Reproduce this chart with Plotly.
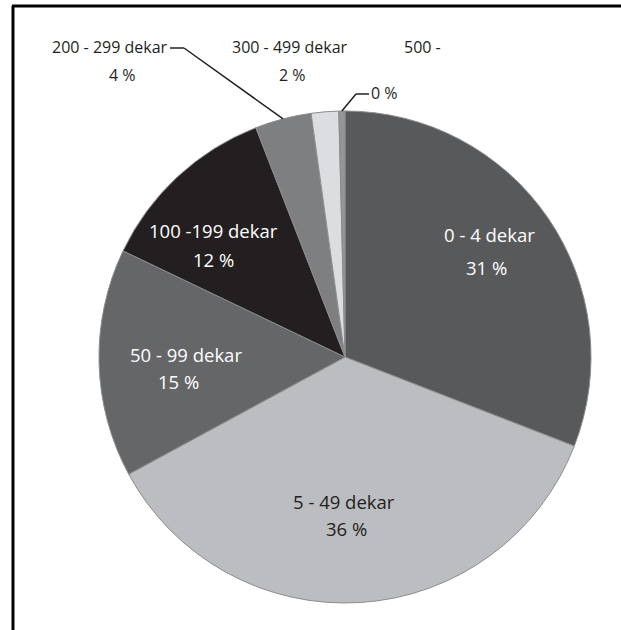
import math
import plotly.graph_objects as go

categories = ["0 - 4 dekar", "5 - 49 dekar", "50 - 99 dekar", "100 -199 dekar",
              "200 - 299 dekar", "300 - 499 dekar", "500 -"]
values = [30.9, 36.2, 15.0, 12.0, 3.7, 1.8, 0.4]
pct_labels = ["31 %", "36 %", "15 %", "12 %", "4 %", "2 %", "0 %"]
colors = ["#58595b", "#bcbdc0", "#656668", "#231f20", "#7e7f81", "#dcdde0", "#939598"]

W, H = 621, 630
cx, cy, R = 345, 357, 246  # pie centre / radius in pixels

dom_x = [(cx - R) / W, (cx + R) / W]
dom_y = [1 - (cy + R) / H, 1 - (cy - R) / H]

fig = go.Figure(go.Pie(
    labels=categories, values=values, sort=False, direction="clockwise",
    rotation=0, textinfo="none", hoverinfo="label+percent",
    marker=dict(colors=colors, line=dict(color="#8c8c8c", width=1)),
    domain=dict(x=dom_x, y=dom_y), showlegend=False,
))

FONT = "Open Sans"

def px2paper(x, y):
    return x / W, 1 - y / H

ann = []
def add_text(x, y, text, color, fs):
    px, py = px2paper(x, y)
    ann.append(dict(x=px, y=py, xref="paper", yref="paper", text=text, showarrow=False,
                    font=dict(family=FONT, size=fs, color=color), xanchor="center", yanchor="middle"))

# inside labels: (category index, name pos, pct pos, colour)
inside = [
    (0, (489, 234), (486, 267), "white"),
    (1, (344, 502), (346, 528), "#231f20"),
    (2, (186, 354), (178, 381), "white"),
    (3, (214, 230), (214, 259), "white"),
]
for i, p1, p2, col in inside:
    add_text(*p1, categories[i], col, 18.5)
    add_text(*p2, pct_labels[i], col, 18.5)

# outside labels
FO = 16
add_text(110, 47, categories[4], "#231f20", FO)
add_text(122, 75, pct_labels[4], "#231f20", FO)
add_text(290, 47, categories[5], "#231f20", FO)
add_text(292, 75, pct_labels[5], "#231f20", FO)
add_text(422, 47, categories[6], "#231f20", FO)
add_text(384, 93, pct_labels[6], "#231f20", FO)

# slice mid-angle edge points from data
total = sum(values)
cum = 0
mids = []
for v in values:
    a = (cum + v / 2) / total * 2 * math.pi
    mids.append((cx + R * math.sin(a), cy - R * math.cos(a)))
    cum += v

shapes = []
def seg(p, q, color="#231f20", w=1.5):
    x0, y0 = px2paper(*p)
    x1, y1 = px2paper(*q)
    shapes.append(dict(type="line", xref="paper", yref="paper", x0=x0, y0=y0, x1=x1, y1=y1,
                       line=dict(color=color, width=w)))

# leader 200-299
seg((170, 48), (184, 48))
seg((184, 48), mids[4])
# leader 500-
seg((369, 94), (356, 94))
seg((356, 94), mids[6])

# frame (left and top borders)
seg((13, H + 5), (13, 6), "black", 3)
seg((12, 6), (W + 5, 6), "black", 3)

fig.update_layout(width=W, height=H, margin=dict(l=0, r=0, t=0, b=0),
                  paper_bgcolor="white", plot_bgcolor="white",
                  annotations=ann, shapes=shapes)
fig.write_html("out.html", config={"displayModeBar": False},
               post_script="document.body.style.margin='0';")
